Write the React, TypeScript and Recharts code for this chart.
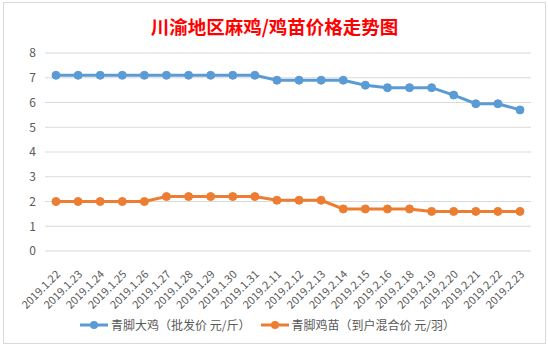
import React from 'react';
import { LineChart, Line, XAxis, YAxis, CartesianGrid, Legend } from 'recharts';

const dates = [
  '2019.1.22', '2019.1.23', '2019.1.24', '2019.1.25', '2019.1.26', '2019.1.27',
  '2019.1.28', '2019.1.29', '2019.1.30', '2019.1.31', '2019.2.11', '2019.2.12',
  '2019.2.13', '2019.2.14', '2019.2.15', '2019.2.16', '2019.2.18', '2019.2.19',
  '2019.2.20', '2019.2.21', '2019.2.22', '2019.2.23',
];
const chickenPrice = [7.1, 7.1, 7.1, 7.1, 7.1, 7.1, 7.1, 7.1, 7.1, 7.1, 6.9, 6.9, 6.9, 6.9, 6.7, 6.6, 6.6, 6.6, 6.3, 5.95, 5.95, 5.7];
const chickPrice = [2.0, 2.0, 2.0, 2.0, 2.0, 2.2, 2.2, 2.2, 2.2, 2.2, 2.05, 2.05, 2.05, 1.7, 1.7, 1.7, 1.7, 1.6, 1.6, 1.6, 1.6, 1.6];
const yTicks = [0, 1, 2, 3, 4, 5, 6, 7, 8];

const SERIES = [
  { key: 'chicken', name: '青脚大鸡（批发价 元/斤）', color: '#5B9BD5' },
  { key: 'chick', name: '青脚鸡苗（到户混合价 元/羽）', color: '#ED7D31' },
];

const data = dates.map((d, i) => ({ date: d, chicken: chickenPrice[i], chick: chickPrice[i] }));

const FONT = '"Noto Sans CJK SC", "Noto Sans", sans-serif';

const DateTick = (props: any) => {
  const { x, y, payload } = props;
  return (
    <text
      transform={`translate(${x + 5},${y + 16}) rotate(-45)`}
      textAnchor="end"
      fontSize={11}
      fill="#595959"
      fontFamily={FONT}
    >
      {payload.value}
    </text>
  );
};

const LegendBox = () => (
  <div style={{ display: 'flex', justifyContent: 'center', gap: 10, fontFamily: FONT, fontSize: 12, color: '#595959' }}>
    {SERIES.map(s => (
      <div key={s.key} style={{ display: 'flex', alignItems: 'center' }}>
        <svg width={28} height={10} style={{ marginRight: 3 }}>
          <line x1={0} y1={5} x2={28} y2={5} stroke={s.color} strokeWidth={3} />
          <circle cx={14} cy={5} r={4} fill={s.color} />
        </svg>
        <span>{s.name}</span>
      </div>
    ))}
  </div>
);

export default function App() {
  return (
    <div style={{ position: 'absolute', left: 0, top: 0, width: 548, height: 346, background: '#fff' }}>
      <div
        style={{
          position: 'absolute', left: 3, top: 2, width: 541, height: 340,
          border: '1px solid #d9d9d9', background: '#fff',
        }}
      >
        <div
          style={{
            position: 'absolute', left: 0, top: 10, width: '100%', textAlign: 'center',
            fontFamily: FONT, fontWeight: 'bold', fontSize: 18.5, color: '#FF0000', letterSpacing: 0,
          }}
        >
          川渝地区麻鸡/鸡苗价格走势图
        </div>
        <LineChart width={541} height={340} data={data} margin={{ top: 50, right: 14, left: 0, bottom: 8 }}>
          <CartesianGrid vertical={false} stroke="#d9d9d9" strokeWidth={1} />
          <XAxis
            dataKey="date"
            interval={0}
            tick={<DateTick />}
            tickLine={false}
            axisLine={false}
            height={67}
            padding={{ left: 11, right: 11 }}
          />
          <YAxis
            domain={[0, 8]}
            ticks={yTicks}
            width={41}
            tickLine={false}
            axisLine={false}
            tickMargin={3}
            tick={{ fontSize: 12, fill: '#595959', fontFamily: FONT }}
          />
          <Legend verticalAlign="bottom" content={<LegendBox />} wrapperStyle={{ bottom: 10 }} />
          {SERIES.map(s => (
            <Line
              key={s.key}
              dataKey={s.key}
              name={s.name}
              stroke={s.color}
              strokeWidth={3}
              dot={{ r: 4, fill: s.color, stroke: s.color, strokeWidth: 1 }}
              isAnimationActive={false}
            />
          ))}
        </LineChart>
      </div>
    </div>
  );
}
